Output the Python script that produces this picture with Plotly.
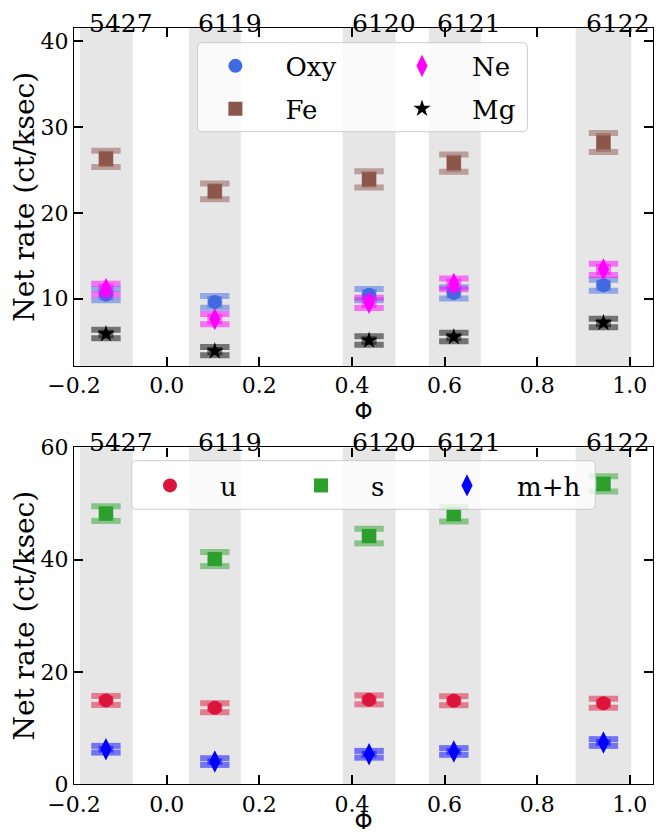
import plotly.graph_objects as go

# ---------------- data ----------------
phase = [-0.131, 0.104, 0.437, 0.620, 0.943]
obsids = ["5427", "6119", "6120", "6121", "6122"]
band_start = [-0.187, 0.048, 0.380, 0.566, 0.883]
band_end = [-0.073, 0.160, 0.494, 0.678, 1.003]

x_ticks = [-0.2, 0.0, 0.2, 0.4, 0.6, 0.8, 1.0]
x_ticklabels = ["\u22120.2", "0.0", "0.2", "0.4", "0.6", "0.8", "1.0"]
y_ticks_top = [10, 20, 30, 40]
y_ticks_bot = [0, 20, 40, 60]

oxy = [10.45, 9.6, 10.45, 10.65, 11.55]
oxy_err = [0.65, 0.68, 0.65, 0.65, 0.65]
fe = [26.3, 22.5, 23.9, 25.8, 28.2]
fe_err = [0.95, 0.93, 0.95, 1.0, 1.1]
ne = [11.1, 7.6, 9.5, 11.7, 13.4]
ne_err = [0.62, 0.6, 0.6, 0.62, 0.65]
mg = [5.85, 3.85, 5.1, 5.5, 7.15]
mg_err = [0.5, 0.48, 0.5, 0.5, 0.5]

u_rate = [14.9, 13.6, 15.0, 14.85, 14.4]
u_err = [0.8, 0.8, 0.8, 0.8, 0.8]
s_rate = [48.2, 40.1, 44.2, 48.1, 53.5]
s_err = [1.3, 1.25, 1.3, 1.3, 1.35]
mh_rate = [6.2, 4.0, 5.3, 5.8, 7.4]
mh_err = [0.6, 0.6, 0.6, 0.6, 0.6]

SERIF = "DejaVu Serif, Liberation Serif, serif"
SANS = "DejaVu Sans, sans-serif"

fig = go.Figure()


def rgba(rgb, a):
    return "rgba(%d,%d,%d,%.2f)" % (rgb[0], rgb[1], rgb[2], a)


def add_series(name, y, err, rgb, symbol, size, xa, ya, legend):
    col = rgba(rgb, 1)
    ecol = rgba(rgb, 0.5)
    # caps of the error bars
    fig.add_trace(go.Scatter(
        x=phase + phase,
        y=[v + e for v, e in zip(y, err)] + [v - e for v, e in zip(y, err)],
        mode="markers", xaxis=xa, yaxis=ya, showlegend=False, hoverinfo="skip",
        marker=dict(symbol="line-ew", size=21, line=dict(width=6, color=ecol)),
    ))
    fig.add_trace(go.Scatter(
        x=phase, y=y, name=name, mode="markers", xaxis=xa, yaxis=ya, legend=legend,
        legendgroup=name,
        marker=dict(symbol=symbol, size=size, color=col, line=dict(width=0)),
        error_y=dict(type="data", array=err, visible=True, thickness=15, width=0, color=ecol),
    ))


add_series("Oxy", oxy, oxy_err, (65, 105, 225), "circle", 14, "x", "y", "legend")
add_series("Fe", fe, fe_err, (140, 86, 75), "square", 14, "x", "y", "legend")
add_series("Ne", ne, ne_err, (255, 0, 255), "diamond-tall", 16, "x", "y", "legend2")
add_series("Mg", mg, mg_err, (0, 0, 0), "star", 13, "x", "y", "legend2")

add_series("u", u_rate, u_err, (220, 20, 60), "circle", 14, "x2", "y2", "legend3")
add_series("s", s_rate, s_err, (44, 160, 44), "square", 14, "x2", "y2", "legend4")
add_series("m+h", mh_rate, mh_err, (0, 0, 255), "diamond-tall", 16, "x2", "y2", "legend5")

shapes = []
annotations = []
for xr, yr in (("x", "y domain"), ("x2", "y2 domain")):
    for b0, b1 in zip(band_start, band_end):
        shapes.append(dict(type="rect", xref=xr, yref=yr, x0=b0, x1=b1, y0=0, y1=1,
                           fillcolor="rgba(128,128,128,0.2)", line=dict(width=0), layer="below"))
    for p, lab in zip(phase, obsids):
        annotations.append(dict(x=p, y=1, xref=xr, yref=yr, text=lab, showarrow=False,
                                xanchor="center", yanchor="bottom", xshift=15, yshift=-12,
                                font=dict(family=SERIF, size=25, color="black")))


def rounded_box(x0, x1, y0, y1):
    rx, ry = 5 / 579, 5 / 756
    return ("M %f,%f L %f,%f Q %f,%f %f,%f L %f,%f Q %f,%f %f,%f L %f,%f Q %f,%f %f,%f "
            "L %f,%f Q %f,%f %f,%f Z" % (
                x0 + rx, y1, x1 - rx, y1, x1, y1, x1, y1 - ry, x1, y0 + ry, x1, y0, x1 - rx, y0,
                x0 + rx, y0, x0, y0, x0, y0 + ry, x0, y1 - ry, x0, y1, x0 + rx, y1))


for bx in ((0.2133, 0.7831, 0.8628, 0.9806), (0.0997, 0.9003, 0.3634, 0.4277)):
    shapes.append(dict(type="path", xref="paper", yref="paper", path=rounded_box(*bx),
                       fillcolor="rgba(255,255,255,0.8)", line=dict(color="rgb(204,204,204)", width=1),
                       layer="above"))

axis_common = dict(showline=True, linecolor="black", linewidth=1.2, mirror="ticks",
                   ticks="inside", ticklen=9, tickwidth=1.5, tickcolor="black",
                   showgrid=False, zeroline=False, automargin=False,
                   tickfont=dict(family=SERIF, size=22, color="black"))

legend_common = dict(bgcolor="rgba(0,0,0,0)", borderwidth=0, itemwidth=90,
                     font=dict(family=SERIF, size=26, color="black"),
                     xanchor="left", yanchor="top", xref="paper", yref="paper",
                     orientation="v", tracegroupgap=6)

ytitle_font = dict(family=SERIF, size=28, color="black")
xtitle_font = dict(family=SANS, size=23, color="black")

# the page adds an 8px body margin, so the figure is 8px smaller than the window
fig.update_layout(
    width=655, height=826,
    margin=dict(l=66, r=10, t=20, b=50, autoexpand=False),
    paper_bgcolor="white", plot_bgcolor="white",
    xaxis=dict(axis_common, anchor="y", domain=[0, 1], range=[-0.2, 1.05],
               tickvals=x_ticks, ticktext=x_ticklabels,
               title=dict(text="\u03a6", font=xtitle_font, standoff=0)),
    yaxis=dict(axis_common, anchor="x", domain=[0.5533, 1], range=[2.16, 41.56],
               tickvals=y_ticks_top,
               title=dict(text="Net rate (ct/ksec)", font=ytitle_font, standoff=6)),
    xaxis2=dict(axis_common, anchor="y2", domain=[0, 1], range=[-0.2, 1.05],
                tickvals=x_ticks, ticktext=x_ticklabels,
                title=dict(text="\u03a6", font=xtitle_font, standoff=0)),
    yaxis2=dict(axis_common, anchor="x2", domain=[0, 0.4452], range=[0, 60],
                tickvals=y_ticks_bot,
                title=dict(text="Net rate (ct/ksec)", font=ytitle_font, standoff=6)),
    shapes=shapes,
    annotations=annotations,
    legend=dict(legend_common, x=0.1924, y=0.9809),
    legend2=dict(legend_common, x=0.5147, y=0.9809),
    legend3=dict(legend_common, x=0.0794, y=0.4259),
    legend4=dict(legend_common, x=0.3402, y=0.4259),
    legend5=dict(legend_common, x=0.5924, y=0.4259),
    showlegend=True,
)

fig.write_html("out.html")
